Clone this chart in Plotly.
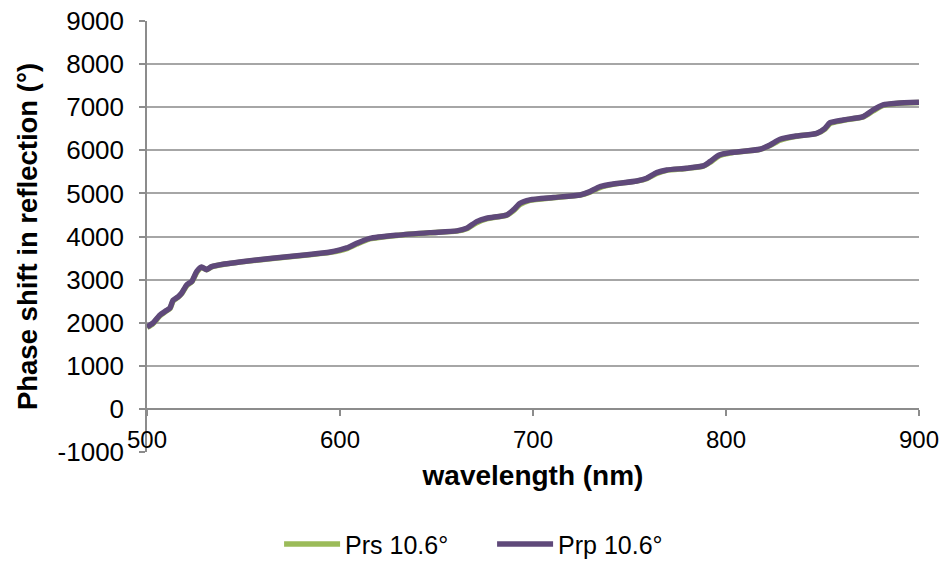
import plotly.graph_objects as go

# Wavelength samples (nm)
wavelength = [500, 503, 506.7, 509.3, 511.9, 513.5, 516.1, 518, 520.6, 523.2,
              525.8, 528.3, 530.9, 533.5, 540, 548, 565, 583, 595, 600,
              603.5, 608.7, 615.5, 629.4, 646.6, 660.5, 665.6, 670.8, 676, 686.4,
              689.8, 693.3, 698.4, 710.5, 724.4, 729.5, 734.7, 741.6, 753.7, 758.9,
              764.1, 769.3, 779.6, 788.2, 791.7, 796.5, 802.1, 817.6, 822.8, 828,
              836.6, 847, 851.3, 853.9, 860.8, 871.1, 876.3, 881.4, 888.4, 900]

# Phase shift in reflection (degrees), s-polarisation at 10.6 deg
prs_10_6 = [1890, 1975, 2160, 2250, 2330, 2500, 2590, 2675, 2860, 2950,
            3170, 3280, 3230, 3295, 3355, 3405, 3490, 3570, 3632, 3675,
            3720, 3825, 3945, 4025, 4085, 4125, 4180, 4320, 4410, 4495,
            4595, 4745, 4840, 4900, 4960, 5030, 5135, 5210, 5285, 5340,
            5460, 5535, 5580, 5632, 5720, 5875, 5938, 6020, 6110, 6235,
            6325, 6390, 6495, 6620, 6695, 6776, 6915, 7040, 7086, 7110]

# Phase shift in reflection (degrees), p-polarisation at 10.6 deg
prp_10_6 = [1900, 1990, 2180, 2260, 2340, 2520, 2600, 2690, 2880, 2960,
            3190, 3290, 3230, 3300, 3360, 3410, 3495, 3575, 3640, 3690,
            3735, 3843, 3955, 4030, 4090, 4130, 4190, 4345, 4423, 4500,
            4616, 4771, 4850, 4905, 4964, 5041, 5157, 5219, 5289, 5351,
            5482, 5544, 5583, 5637, 5737, 5892, 5946, 6024, 6124, 6256,
            6333, 6395, 6511, 6641, 6704, 6781, 6936, 7052, 7091, 7114]

x_ticks = [500, 600, 700, 800, 900]
y_ticks = [-1000, 0, 1000, 2000, 3000, 4000, 5000, 6000, 7000, 8000, 9000]

GREEN = "#9BBB59"
PURPLE = "#5F497A"
GRID = "#A6A6A6"
AXIS = "#8C8C8C"

fig = go.Figure()
fig.add_trace(go.Scatter(
    x=wavelength, y=prs_10_6, mode="lines", name="Prs 10.6°",
    line=dict(color=GREEN, width=5.5, shape="spline", smoothing=0.6),
))
fig.add_trace(go.Scatter(
    x=wavelength, y=prp_10_6, mode="lines", name="Prp 10.6°",
    line=dict(color=PURPLE, width=5.5, shape="spline", smoothing=0.6),
))

fig.update_layout(
    width=949, height=562,
    margin=dict(l=147, r=30, t=21, b=110, autoexpand=False),
    paper_bgcolor="white", plot_bgcolor="white",
    font=dict(family="Liberation Sans, Arial, sans-serif", color="#000000", size=26),
    showlegend=True,
    legend=dict(
        orientation="h", x=0.447, xanchor="center", y=-0.214, yanchor="middle",
        font=dict(size=25), itemwidth=56,
        entrywidth=142, entrywidthmode="pixels",
    ),
    xaxis=dict(
        range=[500, 900], tickvals=x_ticks, ticktext=[str(v) for v in x_ticks],
        anchor="free", position=0.1, automargin=False,
        showline=True, linecolor=AXIS, linewidth=1.5,
        ticks="outside", ticklen=6, tickcolor=AXIS, tickwidth=1.5,
        showgrid=False, zeroline=False,
        tickfont=dict(family="Liberation Sans Narrow, Arial Narrow, Liberation Sans, sans-serif", size=24),
        ticklabelstandoff=4,
        title=dict(text="<b>wavelength (nm)</b>", standoff=12,
                   font=dict(size=28)),
    ),
    yaxis=dict(
        range=[-1000, 9000], tickvals=y_ticks, ticktext=[str(v) for v in y_ticks],
        automargin=False,
        showline=True, linecolor=AXIS, linewidth=1.5,
        ticks="outside", ticklen=6, tickcolor=AXIS, tickwidth=1.5,
        showgrid=True, gridcolor=GRID, gridwidth=1.5, zeroline=False,
        tickfont=dict(size=26), ticklabelstandoff=10,
        title=dict(text="<b>Phase shift in reflection (°)</b>", standoff=12,
                   font=dict(size=27.5)),
    ),
)

fig.write_html("out.html")
